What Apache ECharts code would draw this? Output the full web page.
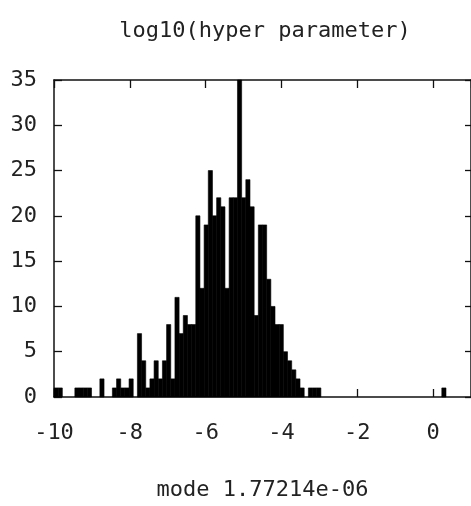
<!DOCTYPE html>
<html>
<head>
<meta charset="utf-8">
<script src="https://cdn.jsdelivr.net/npm/echarts@6/dist/echarts.min.js"></script>
<style>
html,body{margin:0;padding:0;background:#fff;}
#chart{width:471px;height:506px;}
</style>
</head>
<body>
<div id="chart"></div>
<script>
// Histogram of log10(hyper parameter)
const titleText = 'log10(hyper parameter)';
const xAxisName = 'mode 1.77214e-06';
const binStart = -10;
const binWidth = 0.11;
const counts = [
  1,1,0,0,0,1,1,1,1,0,
  0,2,0,0,1,2,1,1,2,0,
  7,4,1,2,4,2,4,8,2,11,
  7,9,8,8,20,12,19,25,20,22,
  21,12,22,22,35,22,24,21,9,19,
  19,13,10,8,8,5,4,3,2,1,
  0,1,1,1,0,0,0,0,0,0,
  0,0,0,0,0,0,0,0,0,0,
  0,0,0,0,0,0,0,0,0,0,
  0,0,0,1,0,0,0,0,0,0
];
const xMin = -10, xMax = 1, xStep = 2;
const yMin = 0, yMax = 35, yStep = 5;

const bins = [];
counts.forEach((c, i) => {
  if (c > 0) bins.push([binStart + i * binWidth, binStart + (i + 1) * binWidth, c]);
});

const FONT = "'DejaVu Sans Mono', monospace";
const TXT = '#222';
const LINE = '#111';

const chart = echarts.init(document.getElementById('chart'), null, {renderer: 'canvas'});
const tickStyle = {show: true, inside: true, length: 8, lineStyle: {color: LINE, width: 1.3}};
const axisLineStyle = {show: true, onZero: false, lineStyle: {color: LINE, width: 1.5}};
chart.setOption({
  animation: false,
  backgroundColor: '#fff',
  title: {
    text: titleText,
    left: 260,
    textAlign: 'center',
    top: 15,
    textStyle: {fontFamily: FONT, fontSize: 22, fontWeight: 'normal', color: TXT}
  },
  grid: {left: 54, right: -1, top: 80, bottom: 105},
  xAxis: [{
    type: 'value', min: xMin, max: xMax, interval: xStep,
    position: 'bottom',
    name: xAxisName, nameLocation: 'middle', nameGap: 82,
    nameTextStyle: {fontFamily: FONT, fontSize: 22, color: TXT},
    axisLine: axisLineStyle,
    axisTick: tickStyle,
    splitLine: {show: false},
    axisLabel: {fontFamily: FONT, fontSize: 22, color: TXT, margin: 25, showMaxLabel: false,
      formatter: v => (v > 0 ? '' : String(v))}
  }, {
    type: 'value', min: xMin, max: xMax, interval: xStep,
    position: 'top',
    axisLine: axisLineStyle,
    axisTick: tickStyle,
    splitLine: {show: false},
    axisLabel: {show: false}
  }],
  yAxis: [{
    type: 'value', min: yMin, max: yMax, interval: yStep,
    position: 'left',
    axisLine: axisLineStyle,
    axisTick: tickStyle,
    splitLine: {show: false},
    axisLabel: {fontFamily: FONT, fontSize: 22, color: TXT, margin: 17, padding: [5, 0, 0, 0]}
  }, {
    type: 'value', min: yMin, max: yMax, interval: yStep,
    position: 'right',
    axisLine: axisLineStyle,
    axisTick: {show: true, inside: true, length: 6, lineStyle: {color: LINE, width: 1.3}},
    splitLine: {show: false},
    axisLabel: {show: false}
  }],
  series: [{
    type: 'custom',
    xAxisIndex: 0,
    yAxisIndex: 0,
    encode: {x: [0, 1], y: 2},
    data: bins,
    renderItem: function (params, api) {
      const p0 = api.coord([api.value(0), api.value(2)]);
      const p1 = api.coord([api.value(1), 0]);
      return {
        type: 'rect',
        shape: {x: p0[0], y: p0[1], width: p1[0] - p0[0], height: p1[1] - p0[1]},
        style: {fill: '#000', stroke: '#000', lineWidth: 0.6}
      };
    }
  }]
});
</script>
</body>
</html>
